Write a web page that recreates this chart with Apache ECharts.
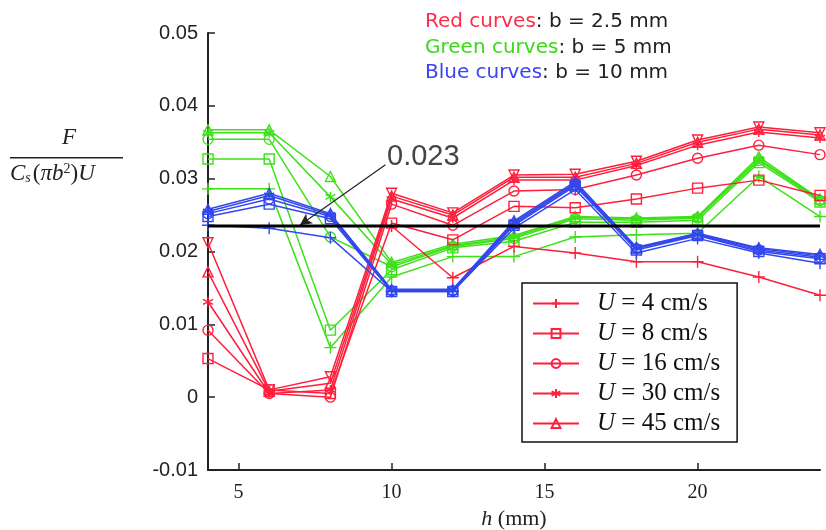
<!DOCTYPE html>
<html><head><meta charset="utf-8">
<script src="https://cdn.jsdelivr.net/npm/echarts@6/dist/echarts.min.js"></script>
<style>html,body{margin:0;padding:0;background:#fff}#c{width:826px;height:530px}</style>
</head><body><div id="c"></div>
<script>
// ---- data ----
const hValues = [4, 6, 8, 10, 12, 14, 16, 18, 20, 22, 24];
const xTickValues = [5, 10, 15, 20];
const uLabels = ['4', '8', '16', '30', '45'];
// Red curves: b = 2.5 mm
const red_U4  = [null, null, null, 0.0235, 0.0164, 0.0207, 0.0198, 0.0186, 0.0186, 0.0165, 0.0140];
const red_U8  = [0.0053, 0.0010, 0.0005, 0.0239, 0.0216, 0.0262, 0.0260, 0.0272, 0.0287, 0.0298, 0.0277];
const red_U16 = [0.0092, 0.0005, 0.0000, 0.0265, 0.0236, 0.0283, 0.0285, 0.0305, 0.0328, 0.0346, 0.0333];
const red_U30 = [0.0131, 0.0005, 0.0010, 0.0272, 0.0246, 0.0298, 0.0298, 0.0318, 0.0346, 0.0364, 0.0356];
const red_U45 = [0.0172, 0.0008, 0.0019, 0.0276, 0.0250, 0.0302, 0.0302, 0.0321, 0.0350, 0.0368, 0.0360];
const red_extra = [0.0212, 0.0010, 0.0028, 0.0280, 0.0253, 0.0305, 0.0306, 0.0324, 0.0353, 0.0371, 0.0363];
// Green curves: b = 5 mm
const green_U4  = [0.0286, 0.0286, 0.0068, 0.0165, 0.0193, 0.0193, 0.0220, 0.0223, 0.0225, 0.0303, 0.0248];
const green_U8  = [0.0327, 0.0327, 0.0092, 0.0175, 0.0205, 0.0214, 0.0240, 0.0240, 0.0243, 0.0322, 0.0268];
const green_U16 = [0.0354, 0.0354, 0.0220, 0.0179, 0.0207, 0.0218, 0.0245, 0.0243, 0.0246, 0.0325, 0.0270];
const green_U30 = [0.0363, 0.0363, 0.0275, 0.0182, 0.0208, 0.0220, 0.0247, 0.0245, 0.0247, 0.0327, 0.0271];
const green_U45 = [0.0367, 0.0367, 0.0303, 0.0185, 0.0210, 0.0222, 0.0248, 0.0246, 0.0248, 0.0330, 0.0272];
// Blue curves: b = 10 mm
const blue_U4  = [0.0236, 0.0232, 0.0219, 0.0145, 0.0145, 0.0232, 0.0285, 0.0198, 0.0218, 0.0198, 0.0184];
const blue_U8  = [0.0248, 0.0265, 0.0245, 0.0145, 0.0145, 0.0236, 0.0290, 0.0202, 0.0222, 0.0200, 0.0190];
const blue_U16 = [0.0252, 0.0272, 0.0248, 0.0146, 0.0146, 0.0238, 0.0292, 0.0204, 0.0223, 0.0202, 0.0192];
const blue_U30 = [0.0255, 0.0277, 0.0250, 0.0147, 0.0147, 0.0240, 0.0294, 0.0205, 0.0224, 0.0204, 0.0194];
const blue_U45 = [0.0258, 0.0280, 0.0252, 0.0148, 0.0148, 0.0242, 0.0296, 0.0206, 0.0225, 0.0205, 0.0196];
const refValue = 0.0235;
const refLabel = '0.023';
const arrowFrom = [9.8, 0.0319];
const arrowTo = [7.0, 0.0236];

// ---- styles ----
const RED = '#ff1f3c', GREEN = '#3ee01a', BLUE = '#3347ee';
const SYM = {
  plus: 'path://M5,0L5,10M0,5L10,5',
  square: 'rect',
  circle: 'circle',
  star: 'path://M5,0L5,10M0.7,2.5L9.3,7.5M0.7,7.5L9.3,2.5',
  tri: 'triangle',
  triDown: 'path://M0,0L10,0L5,8.66Z'
};
const symOrder = ['plus', 'square', 'circle', 'star', 'tri'];

function mk(name, vals, color, symKey, z) {
  return {
    name: name, type: 'line', z: z,
    data: hValues.map((h, i) => [h, vals[i]]),
    connectNulls: false,
    symbol: SYM[symKey], symbolSize: symKey === 'plus' ? 12 : 10,
    showSymbol: true,
    lineStyle: { color: color, width: 1.5 },
    itemStyle: { color: 'rgba(0,0,0,0)', borderColor: color, borderWidth: 1.4 },
    emphasis: { disabled: true },
    animation: false
  };
}
const legendNames = uLabels.map(u => 'U = ' + u + ' cm/s');
const series = [];
[green_U4, green_U8, green_U16, green_U30, green_U45].forEach((v, i) =>
  series.push(mk('g' + uLabels[i], v, GREEN, symOrder[i], 2)));
[red_U4, red_U8, red_U16, red_U30, red_U45].forEach((v, i) =>
  series.push(mk(legendNames[i], v, RED, symOrder[i], 3)));
series.push(mk('r_extra', red_extra, RED, 'triDown', 3));
[blue_U4, blue_U8, blue_U16, blue_U30, blue_U45].forEach((v, i) =>
  series.push(mk('b' + uLabels[i], v, BLUE, symOrder[i], 4)));
series.push({
  name: 'ref', type: 'line', z: 5, symbol: 'none', animation: false,
  data: [[hValues[0], refValue], [hValues[hValues.length - 1], refValue]],
  lineStyle: { color: '#000', width: 3 },
  markLine: {
    silent: true, animation: false,
    symbol: ['none', 'arrow'], symbolSize: [9, 12],
    lineStyle: { color: '#222', width: 1.2, type: 'solid' },
    label: { show: false },
    data: [[{ coord: arrowFrom }, { coord: arrowTo }]]
  }
});

const TXT = '20px "DejaVu Sans"';
const chart = echarts.init(document.getElementById('c'), null, { renderer: 'canvas' });
chart.setOption({
  backgroundColor: '#fff',
  animation: false,
  grid: { left: 208, right: 6, top: 33, bottom: 60, containLabel: false, outerBoundsMode: 'none' },
  xAxis: {
    type: 'value', min: 4, max: 24,
    axisLine: { show: true, onZero: false, lineStyle: { color: '#222', width: 2 } },
    axisTick: { show: true, inside: true, length: 7, customValues: xTickValues, lineStyle: { color: '#222', width: 1.5 } },
    axisLabel: { customValues: xTickValues, color: '#222', fontFamily: 'Liberation Serif', fontSize: 20, margin: 13 },
    splitLine: { show: false },
    name: '{i|h} (mm)', nameLocation: 'middle', nameGap: 38,
    nameTextStyle: { color: '#222', fontFamily: 'Liberation Serif', fontSize: 22,
      rich: { i: { fontStyle: 'italic', fontFamily: 'Liberation Serif', fontSize: 22, color: '#222' } } }
  },
  yAxis: {
    type: 'value', min: -0.01, max: 0.05, interval: 0.01,
    axisLine: { show: true, lineStyle: { color: '#222', width: 2 } },
    axisTick: { show: true, inside: true, length: 7, lineStyle: { color: '#222', width: 1.5 } },
    axisLabel: { color: '#222', fontFamily: 'Liberation Sans', fontSize: 20, margin: 10,
      formatter: v => (Math.abs(v) < 1e-9 ? '0' : v.toFixed(2)) },
    splitLine: { show: false }
  },
  legend: {
    data: legendNames,
    orient: 'vertical', left: 522, top: 283,
    backgroundColor: '#fff',
    borderColor: '#111', borderWidth: 1.5, borderRadius: 0,
    padding: [8, 17, 6, 10],
    itemWidth: 46, itemHeight: 11, itemGap: 5,
    selectedMode: false,
    formatter: n => '{u|U}{t|' + n.slice(1) + '}',
    textStyle: {
      color: '#111', fontFamily: 'Liberation Serif', fontSize: 25, lineHeight: 22,
      rich: {
        u: { fontStyle: 'italic', fontFamily: 'Liberation Serif', fontSize: 25, lineHeight: 22, color: '#111', padding: [0, 0, 0, 13] },
        t: { fontFamily: 'Liberation Serif', fontSize: 25, lineHeight: 22, color: '#111' }
      }
    }
  },
  series: series,
  graphic: [
    { type: 'text', left: 425, top: 12, style: {
      text: '{r|Red curves}{k|: b = 2.5 mm}', font: TXT,
      rich: { r: { fill: '#ff2b4a', font: TXT }, k: { fill: '#222', font: TXT } } } },
    { type: 'text', left: 425, top: 38, style: {
      text: '{g|Green curves}{k|: b = 5 mm}', font: TXT,
      rich: { g: { fill: '#3ed81a', font: TXT }, k: { fill: '#222', font: TXT } } } },
    { type: 'text', left: 425, top: 63, style: {
      text: '{b|Blue curves}{k|: b = 10 mm}', font: TXT,
      rich: { b: { fill: '#3a44f0', font: TXT }, k: { fill: '#222', font: TXT } } } },
    // y-axis fraction label
    { type: 'text', left: 62, top: 126, style: { text: 'F', fill: '#222', font: 'italic 23px "Liberation Serif"' } },
    { type: 'rect', left: 10, top: 157, shape: { width: 113, height: 1.5 }, style: { fill: '#222' } },
    { type: 'text', left: 10, top: 162, style: {
      text: '{i|C}{s|s}{n|(}{i|πb}{p|2}{n|)}{i|U}', fill: '#222',
      rich: {
        i: { font: 'italic 23px "Liberation Serif"', fill: '#222', verticalAlign: 'bottom' },
        n: { font: '23px "Liberation Serif"', fill: '#222', verticalAlign: 'bottom' },
        s: { font: 'italic 14px "Liberation Serif"', fill: '#222', verticalAlign: 'bottom', padding: [0, 2, 0, 0] },
        p: { font: '14px "Liberation Serif"', fill: '#222', verticalAlign: 'top' }
      } } }
  ]
});
// annotation text placed from data coordinates
const p = chart.convertToPixel({ gridIndex: 0 }, [9.85, 0.0330]);
chart.setOption({ graphic: [{ id: 'refText', type: 'text', x: p[0], y: p[1],
  style: { text: refLabel, fill: '#444', font: '29px "Liberation Sans"', textVerticalAlign: 'middle' } }] });
</script></body></html>
